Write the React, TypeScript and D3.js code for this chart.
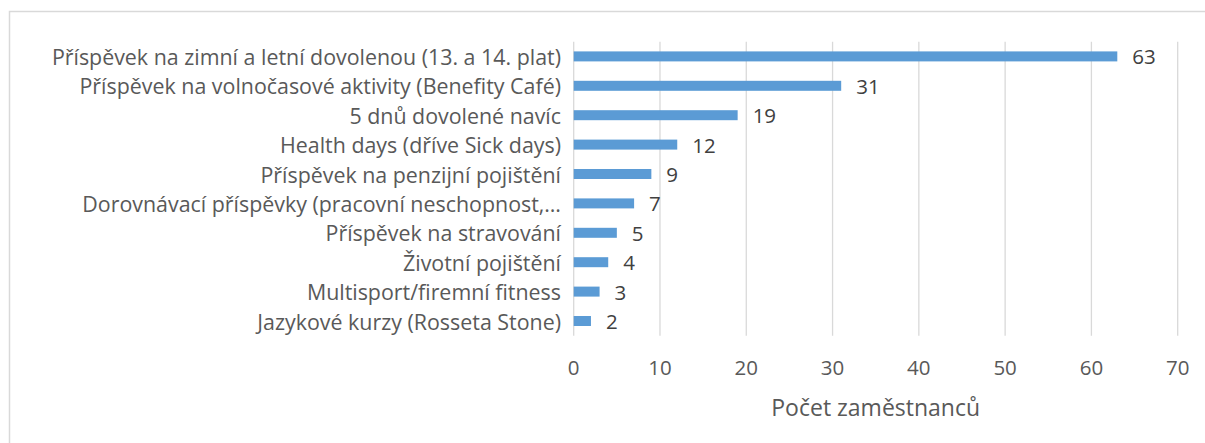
import React, { useLayoutEffect } from "react";
import * as d3 from "d3";

const categories = [
  "Příspěvek na zimní a letní dovolenou (13. a 14. plat)",
  "Příspěvek na volnočasové aktivity (Benefity Café)",
  "5 dnů dovolené navíc",
  "Health days (dříve Sick days)",
  "Příspěvek na penzijní pojištění",
  "Dorovnávací příspěvky (pracovní neschopnost,…",
  "Příspěvek na stravování",
  "Životní pojištění",
  "Multisport/firemní fitness",
  "Jazykové kurzy (Rosseta Stone)",
];
const values = [63, 31, 19, 12, 9, 7, 5, 4, 3, 2];
const xTicks = [0, 10, 20, 30, 40, 50, 60, 70];
const xTitle = "Počet zaměstnanců";

const W = 1205;
const H = 443;
const FONT = "'Open Sans', sans-serif";

export default function App() {
  useLayoutEffect(() => {
    document.body.style.margin = "0";
  }, []);

  const x = d3.scaleLinear().domain([0, 70]).range([573.7, 1177.7]);
  const y = d3.scaleBand<string>().domain(categories).range([41.7, 335.7]).paddingInner(0.66).paddingOuter(0.33);

  return (
    <svg width={W} height={H} style={{ display: "block" }} fontFamily={FONT}>
      <rect x={0} y={0} width={W} height={H} fill="#fff" />
      <rect x={9.5} y={11.5} width={W + 20} height={H + 20} fill="none" stroke="#d9d9d9" strokeWidth={1.5} />
      {xTicks.map((t) => (
        <line key={t} x1={x(t)} x2={x(t)} y1={41.7} y2={335.7} stroke="#d9d9d9" strokeWidth={1.3} />
      ))}
      {categories.map((c, i) => {
        const yc = (y(c) as number) + y.bandwidth() / 2;
        return (
          <g key={c}>
            <rect x={x(0)} y={y(c)} width={x(values[i]) - x(0)} height={y.bandwidth()} fill="#5b9bd5" />
            <text x={561} y={yc} textAnchor="end" dominantBaseline="central" fontSize={21.4} fill="#595959">
              {c}
            </text>
            <text x={x(values[i]) + 15} y={yc} dominantBaseline="central" fontSize={20.5} fill="#404040">
              {values[i]}
            </text>
          </g>
        );
      })}
      {xTicks.map((t) => (
        <text key={"t" + t} x={x(t)} y={367} textAnchor="middle" dominantBaseline="central" fontSize={20.5} fill="#595959">
          {t}
        </text>
      ))}
      <text x={(x(0) + x(70)) / 2} y={407} textAnchor="middle" dominantBaseline="central" fontSize={23} fill="#595959">
        {xTitle}
      </text>
    </svg>
  );
}
